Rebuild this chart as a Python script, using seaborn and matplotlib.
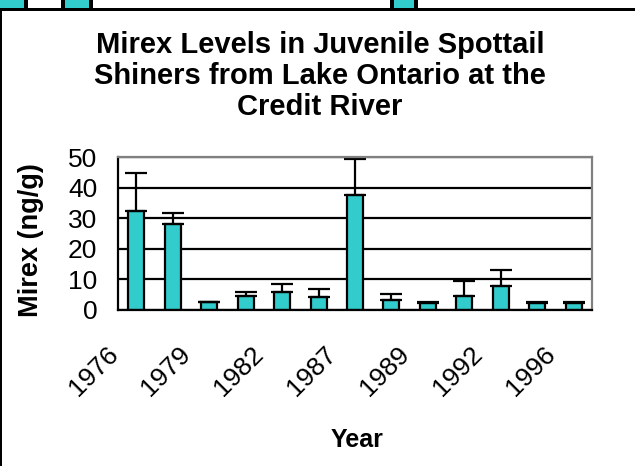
import numpy as np
import pandas as pd
import matplotlib.pyplot as plt
import matplotlib.patches as mpatches
import matplotlib.transforms as mtransforms
import seaborn as sns

# data (unlabelled years are guesses, only every other one is shown)
years = ['1976', '1978', '1979', '1981', '1982', '1984', '1987',
         '1988', '1989', '1990', '1992', '1994', '1996']
mirex = [32.4, 28.0, 2.5, 4.4, 6.0, 4.2, 37.6, 3.3, 2.4, 4.4, 7.9, 2.4, 2.4]
upper = [44.9, 31.7, 2.7, 6.0, 8.6, 6.9, 49.2, 5.2, 2.7, 9.3, 13.2, 2.7, 2.7]
title_lines = ['Mirex Levels in Juvenile Spottail',
               'Shiners from Lake Ontario at the',
               'Credit River']

df = pd.DataFrame({'Year': years, 'Mirex': mirex})
err = np.array(upper) - np.array(mirex)

sns.set_style('white')
plt.rcParams['font.family'] = ['Liberation Sans', 'DejaVu Sans']
for k in ['text.color', 'axes.labelcolor', 'xtick.color', 'ytick.color']:
    plt.rcParams[k] = 'black'

fig = plt.figure(figsize=(6.35, 4.66), dpi=100)
ax = fig.add_axes([0.186, 0.335, 0.746, 0.328])

sns.barplot(data=df, x='Year', y='Mirex', color='#33CCCC', saturation=1,
            edgecolor='black', linewidth=1.6, width=0.44, ax=ax)
ax.errorbar(np.arange(len(years)), mirex, yerr=[np.zeros(len(err)), err],
            fmt='none', ecolor='black', elinewidth=1.6, capsize=8, capthick=1.6)

ax.set_ylim(0, 50)
ax.set_xlim(-0.5, len(years) - 0.5)
ax.set_yticks([0, 10, 20, 30, 40, 50])
ax.yaxis.grid(True, color='black', linewidth=1.6)
ax.set_axisbelow(True)

# labels on every other category, tick marks between categories
ax.set_xticks(np.arange(0, len(years), 2))
ax.set_xticklabels(years[::2], rotation=45, ha='center', va='center', rotation_mode='anchor')
ax.set_xticks(np.arange(-0.5, len(years), 1), minor=True)
ax.tick_params(axis='x', which='major', length=0, labelsize=19, pad=0)
ax.tick_params(axis='x', which='minor', direction='out', length=7, width=1.6)
ax.tick_params(axis='y', direction='out', length=7, width=1.6, labelsize=19, pad=8)
shift = mtransforms.ScaledTranslation(-0.43, -0.61, fig.dpi_scale_trans)
for lab in ax.get_xticklabels():
    lab.set_transform(lab.get_transform() + shift)

for s in ['top', 'right']:
    ax.spines[s].set_color('#808080')
    ax.spines[s].set_linewidth(1.6)
for s in ['left', 'bottom']:
    ax.spines[s].set_color('black')
    ax.spines[s].set_linewidth(1.6)

ax.set_xlabel('')
ax.set_ylabel('')
fig.text(357 / 635, 1 - 440 / 466, 'Year', ha='center', va='center',
         fontsize=18, fontweight='bold')
fig.text(31 / 635, 1 - 240 / 466, 'Mirex (ng/g)', ha='center', va='center',
         rotation=90, fontsize=19.5, fontweight='bold')
for i, line in enumerate(title_lines):
    fig.text(320 / 635, 1 - (45 + 31 * i) / 466, line, ha='center', va='center',
             fontsize=21, fontweight='bold')

# cropped bits of the neighbouring chart along the top edge
for x0, x1 in [(0, 24), (65, 89), (394, 414)]:
    fig.patches.append(mpatches.Rectangle((x0 / 635, 1 - 8 / 466), (x1 - x0) / 635, 8 / 466,
                                          transform=fig.transFigure, facecolor='#33CCCC',
                                          edgecolor='none'))
for x0 in [24, 61, 89, 390, 414]:
    fig.patches.append(mpatches.Rectangle((x0 / 635, 1 - 8 / 466), 4 / 635, 8 / 466,
                                          transform=fig.transFigure, facecolor='black',
                                          edgecolor='none'))
fig.patches.append(mpatches.Rectangle((0, 1 - 11 / 466), 1, 3 / 466, transform=fig.transFigure,
                                      facecolor='black', edgecolor='none'))
fig.patches.append(mpatches.Rectangle((0, 0), 2 / 635, 1 - 11 / 466, transform=fig.transFigure,
                                      facecolor='black', edgecolor='none'))

fig.savefig('out.png', dpi=100)
